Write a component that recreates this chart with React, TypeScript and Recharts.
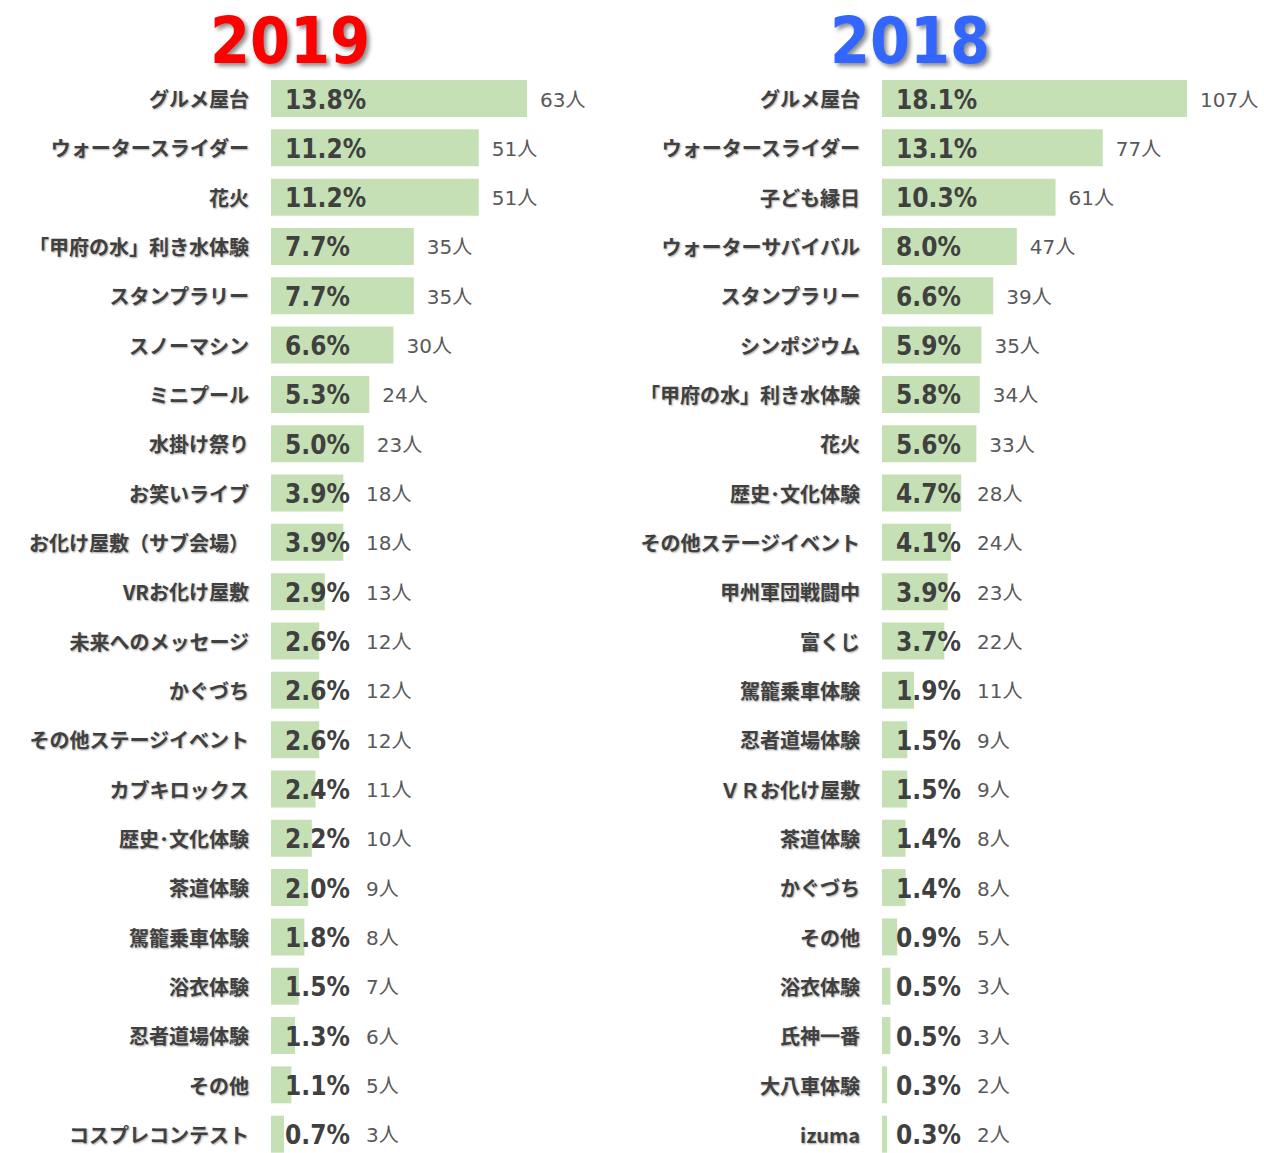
import { BarChart, Bar, XAxis, YAxis, LabelList } from "recharts"

const names2019 = [
    "グルメ屋台", "ウォータースライダー", "花火", "「甲府の水」利き水体験", "スタンプラリー",
    "スノーマシン", "ミニプール", "水掛け祭り", "お笑いライブ", "お化け屋敷（サブ会場）",
    "VRお化け屋敷", "未来へのメッセージ", "かぐづち", "その他ステージイベント", "カブキロックス",
    "歴史･文化体験", "茶道体験", "駕籠乗車体験", "浴衣体験", "忍者道場体験", "その他", "コスプレコンテスト",
]
const pct2019 = [13.8, 11.2, 11.2, 7.7, 7.7, 6.6, 5.3, 5.0, 3.9, 3.9, 2.9, 2.6, 2.6, 2.6, 2.4, 2.2, 2.0, 1.8, 1.5, 1.3, 1.1, 0.7]
const count2019 = [63, 51, 51, 35, 35, 30, 24, 23, 18, 18, 13, 12, 12, 12, 11, 10, 9, 8, 7, 6, 5, 3]

const names2018 = [
    "グルメ屋台", "ウォータースライダー", "子ども縁日", "ウォーターサバイバル", "スタンプラリー",
    "シンポジウム", "「甲府の水」利き水体験", "花火", "歴史･文化体験", "その他ステージイベント",
    "甲州軍団戦闘中", "富くじ", "駕籠乗車体験", "忍者道場体験", "ＶＲお化け屋敷", "茶道体験",
    "かぐづち", "その他", "浴衣体験", "氏神一番", "大八車体験", "izuma",
]
const pct2018 = [18.1, 13.1, 10.3, 8.0, 6.6, 5.9, 5.8, 5.6, 4.7, 4.1, 3.9, 3.7, 1.9, 1.5, 1.5, 1.4, 1.4, 0.9, 0.5, 0.5, 0.3, 0.3]
const count2018 = [107, 77, 61, 47, 39, 35, 34, 33, 28, 24, 23, 22, 11, 9, 9, 8, 8, 5, 3, 3, 2, 2]

const BAR_COLOR = "#C5E0B4"
const TEXT = "#404040"

function CategoryTick(props: any) {
    const { x, y, payload } = props
    return (
        <text
            x={x}
            y={y}
            textAnchor="end"
            dominantBaseline="central"
            fill={TEXT}
            fontSize={20}
            fontWeight={700}
            fontFamily="'Noto Sans CJK JP', sans-serif"
            style={{ textShadow: "1px 1px 2px rgba(0,0,0,0.35)" }}
        >
            {payload.value}
        </text>
    )
}

function PctLabel(props: any) {
    const x = Number(props.x)
    const y = Number(props.y)
    const h = Number(props.height)
    return (
        <text
            x={x + 14}
            y={y + h / 2 + 1}
            dominantBaseline="central"
            fill={TEXT}
            fontSize={26}
            fontWeight={700}
            fontFamily="'DejaVu Sans Condensed', 'DejaVu Sans', sans-serif"
        >
            {Number(props.value).toFixed(1)}%
        </text>
    )
}

function CountLabel(props: any) {
    const x = Number(props.x)
    const y = Number(props.y)
    const w = Number(props.width)
    const h = Number(props.height)
    return (
        <text
            x={Math.max(x + w + 13, x + 95)}
            y={y + h / 2 + 1}
            dominantBaseline="central"
            fill="#595959"
            fontSize={20}
            fontFamily="'DejaVu Sans', 'Noto Sans CJK JP', sans-serif"
        >
            {props.value}人
        </text>
    )
}

type PanelProps = {
    title: string
    color: string
    names: string[]
    pct: number[]
    count: number[]
    axisWidth: number
    xMax: number
    left: number
    titleCenter: number
}

function Panel({ title, color, names, pct, count, axisWidth, xMax, left, titleCenter }: PanelProps) {
    const data = names.map((name, i) => ({ name, pct: pct[i], count: count[i] }))
    return (
        <div style={{ position: "absolute", left, top: 0, width: 632, height: 1153 }}>
            <div
                style={{
                    position: "absolute",
                    left: titleCenter - 100,
                    width: 200,
                    top: 6,
                    textAlign: "center",
                    color,
                    fontSize: 64,
                    fontWeight: 700,
                    lineHeight: "70px",
                    fontFamily: "'DejaVu Sans Condensed', 'DejaVu Sans', sans-serif",
                    textShadow: "3px 3px 4px rgba(0,0,0,0.45)",
                }}
            >
                {title}
            </div>
            <BarChart
                width={632}
                height={1159}
                layout="vertical"
                data={data}
                margin={{ top: 74, right: 0, bottom: 0, left: 0 }}
            >
                <XAxis type="number" domain={[0, xMax]} hide />
                <YAxis
                    type="category"
                    dataKey="name"
                    width={axisWidth}
                    interval={0}
                    axisLine={false}
                    tickLine={false}
                    tickSize={0}
                    tickMargin={22}
                    tick={<CategoryTick />}
                />
                <Bar dataKey="pct" fill={BAR_COLOR} barSize={37} isAnimationActive={false}>
                    <LabelList dataKey="pct" content={<PctLabel />} />
                    <LabelList dataKey="count" content={<CountLabel />} />
                </Bar>
            </BarChart>
        </div>
    )
}

export default function App() {
    return (
        <div
            style={{
                position: "absolute",
                left: 0,
                top: 0,
                width: 1264,
                height: 1153,
                overflow: "hidden",
                background: "#fff",
            }}
        >
            <Panel
                title="2019"
                color="#FF0000"
                names={names2019}
                pct={pct2019}
                count={count2019}
                axisWidth={271}
                xMax={19.46}
                left={0}
                titleCenter={290}
            />
            <Panel
                title="2018"
                color="#3366FF"
                names={names2018}
                pct={pct2018}
                count={count2018}
                axisWidth={250}
                xMax={22.67}
                left={632}
                titleCenter={278}
            />
        </div>
    )
}
